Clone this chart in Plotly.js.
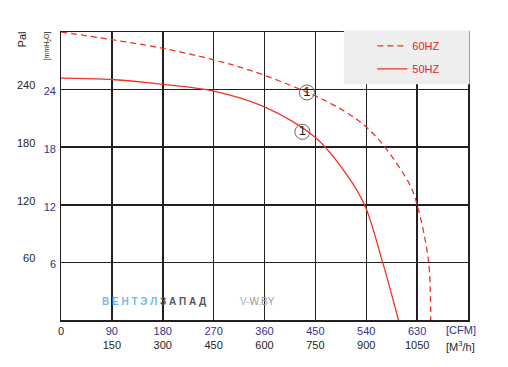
<!DOCTYPE html>
<html><head><meta charset="utf-8">
<script src="https://cdn.plot.ly/plotly-3.0.1.min.js"></script>
<style>html,body{margin:0;padding:0;background:#fff}#chart{width:508px;height:367px}</style>
</head><body><div id="chart"></div>
<script>
// 60 Hz curve (CFM, Pa)
const cfm60 = [0, 90, 180, 270, 340, 440, 500, 540, 573, 617, 630, 650, 654];
const pa60  = [300, 292, 283, 271, 259, 236, 218, 201, 180, 141, 120, 62, 0];
// 50 Hz curve (CFM, Pa)
const cfm50 = [0, 90, 180, 270, 360, 450, 506, 537, 569, 597];
const pa50  = [252, 250.5, 245.5, 238.5, 222, 190, 151, 120, 60, 0];
// marked operating points "1"
const markCfm = [435, 427];
const markPa  = [237, 196];
const markText = ['1', '1'];
// tick values / labels
const cfmTicks = [0, 90, 180, 270, 360, 450, 540, 630];
const m3hTicks = [150, 300, 450, 600, 750, 900, 1050];
const paTicks = [60, 120, 180, 240];
const mmTicks = [6, 12, 18, 24];

const RED = '#ee3424', NAVY = '#2e3192', INK = '#231f20';
const FONT = 'Liberation Sans, Arial, sans-serif';

const traces = [
  {x: cfm60, y: pa60, mode: 'lines', name: '60HZ', line: {color: RED, width: 1.3, dash: '6px,4px', shape: 'spline', smoothing: 1}, legendgroup: 'a'},
  {x: cfm50, y: pa50, mode: 'lines', name: '50HZ', line: {color: RED, width: 1.3, shape: 'spline', smoothing: 1}, legendgroup: 'b'},
  {x: markCfm, y: markPa, mode: 'markers+text', text: markText, textposition: 'middle center',
   textfont: {family: FONT, size: 13, color: INK}, showlegend: false,
   marker: {symbol: 'circle-open', size: 15, color: '#666', line: {width: 1}}},
  // secondary units axes (m³/h, mmH2O)
  {x: [], y: [], xaxis: 'x2', yaxis: 'y2', mode: 'lines', showlegend: false}
];

const cfmText = cfmTicks.map(v => v === 0 ? '<span style="color:#231f20">0</span>' : String(v));

const layout = {
  width: 508, height: 367,
  margin: {l: 61, r: 40, t: 32, b: 47},
  paper_bgcolor: '#fff', plot_bgcolor: '#fff',
  font: {family: FONT, size: 11, color: INK},
  hovermode: false,
  xaxis: {range: [0, 720], tickvals: cfmTicks, ticktext: cfmText, tickfont: {color: NAVY, size: 11},
          showgrid: true, gridcolor: INK, gridwidth: 1.5, showline: true, mirror: true, linecolor: INK, linewidth: 1.5,
          zeroline: false, ticks: ''},
  xaxis2: {range: [0, 1200], overlaying: 'x', anchor: 'y2', side: 'bottom', tickvals: m3hTicks,
           tickfont: {color: INK, size: 11}, showgrid: false, showline: false, zeroline: false, ticks: '',
           ticklabelstandoff: 17},
  yaxis: {range: [0, 300], tickvals: paTicks, tickfont: {color: INK, size: 11},
          showgrid: true, gridcolor: INK, gridwidth: 1.5, showline: true, mirror: true, linecolor: INK, linewidth: 1.5,
          zeroline: false, ticks: '', ticklabelstandoff: 22, ticklabelshift: -4},
  yaxis2: {range: [0, 30], overlaying: 'y', side: 'left', anchor: 'x2', tickvals: mmTicks,
           tickfont: {color: NAVY, size: 11}, showgrid: false, showline: false, zeroline: false, ticks: '',
           ticklabelstandoff: 4, ticklabelshift: 2},
  showlegend: true,
  legend: {x: 0.765, xanchor: 'left', y: 1.002, yanchor: 'top', bgcolor: 'rgba(0,0,0,0)',
           font: {family: FONT, size: 11, color: '#e8231f'}, tracegroupgap: 4},
  shapes: [{type: 'rect', xref: 'paper', yref: 'paper', x0: 0.695, x1: 1.004, y0: 0.819, y1: 1.006,
            fillcolor: '#edeeed', line: {width: 0}, layer: 'above'}],
  annotations: [
    {xref: 'paper', yref: 'paper', x: 0.94, y: -0.007, xanchor: 'left', yanchor: 'top', showarrow: false,
     text: '[CFM]', font: {color: NAVY, size: 11}},
    {xref: 'paper', yref: 'paper', x: 0.94, y: -0.059, xanchor: 'left', yanchor: 'top', showarrow: false,
     text: '[M<sup>3</sup>/h]', font: {color: INK, size: 11}},
    {xref: 'paper', yref: 'paper', x: -0.095, y: 1.01, xanchor: 'center', yanchor: 'top', showarrow: false,
     textangle: -90, text: 'Pal', font: {color: INK, size: 11}},
    {xref: 'paper', yref: 'paper', x: -0.035, y: 1.01, xanchor: 'center', yanchor: 'top', showarrow: false,
     textangle: -90, text: '[mmH<sub>2</sub>O]', font: {color: INK, size: 7}},
    {xref: 'paper', yref: 'paper', x: 0.097, y: 0.065, xanchor: 'left', yanchor: 'middle', showarrow: false,
     text: '<b><span style="color:#74b8e8">В Е Н Т Э Л </span><span style="color:#555">З А П А Д</span></b>', font: {size: 10}},
    {xref: 'paper', yref: 'paper', x: 0.435, y: 0.065, xanchor: 'left', yanchor: 'middle', showarrow: false,
     text: '<span style="color:#8ab8dc">V-</span><span style="color:#999">W.BY</span>', font: {size: 10}}
  ]
};

Plotly.newPlot('chart', traces, layout, {staticPlot: true, displayModeBar: false});
</script></body></html>
